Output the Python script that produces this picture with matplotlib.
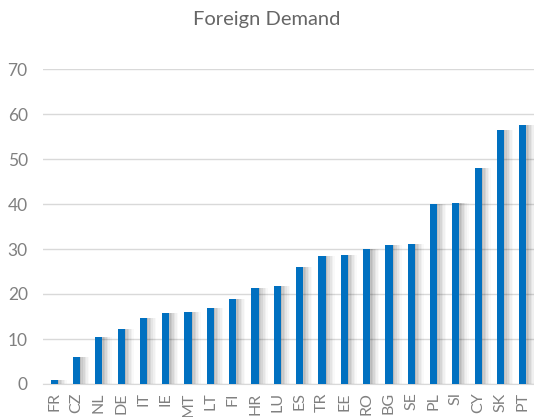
import numpy as np
import matplotlib.pyplot as plt

countries = ["FR", "CZ", "NL", "DE", "IT", "IE", "MT", "LT", "FI", "HR", "LU",
             "ES", "TR", "EE", "RO", "BG", "SE", "PL", "SI", "CY", "SK", "PT"]
values = [0.9, 6.1, 10.4, 12.2, 14.6, 15.8, 15.9, 16.9, 19.0, 21.3, 21.8,
          26.1, 28.4, 28.7, 30.0, 31.0, 31.2, 39.9, 40.2, 47.9, 56.4, 57.5]

grey = "#808080"
blue = "#0070c0"

plt.rcParams['font.family'] = ['Lato', 'DejaVu Sans']

fig = plt.figure(figsize=(5.34, 4.17), dpi=100)
ax = fig.add_axes([43 / 534, 1 - 384 / 417, 491 / 534, 315 / 417])

x = np.arange(len(countries))
w = 0.32

# soft shadow to the right of each bar
for k, a in enumerate([0.09, 0.07, 0.06, 0.045, 0.035, 0.025]):
    off = 0.06 + 0.07 * k
    ax.bar(x + off, values, width=w, color="black", alpha=a, zorder=2,
           linewidth=0)

ax.bar(x, values, width=w, color=blue, zorder=3, linewidth=0)

ax.set_xlim(-0.5, len(countries) - 0.5)
ax.set_ylim(0, 70)
ax.set_yticks(range(0, 71, 10))
ax.set_xticks(x)
ax.set_xticklabels(countries, rotation=90)
ax.tick_params(axis='y', length=0, pad=11, labelsize=12.5, colors=grey)
ax.tick_params(axis='x', length=0, pad=6, labelsize=11.5, colors=grey)
ax.grid(axis='y', color="#d9d9d9", linewidth=1, zorder=0)
ax.set_axisbelow(True)
for s in ["top", "right", "left"]:
    ax.spines[s].set_visible(False)
ax.spines["bottom"].set_color("#d9d9d9")

fig.text(0.5, 1 - 20 / 417, "Foreign Demand", ha="center", va="center",
         fontsize=14.5, color="#666666")

fig.savefig("out.png", dpi=100)
